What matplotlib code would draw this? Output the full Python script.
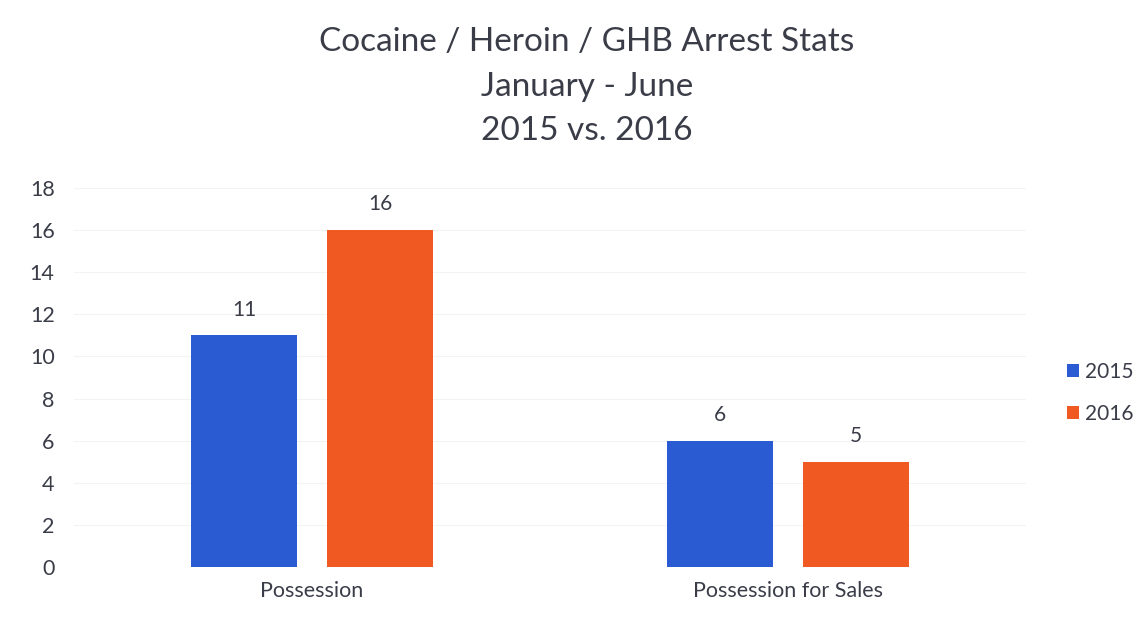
import numpy as np
import matplotlib.pyplot as plt

categories = ['Possession', 'Possession for Sales']
years = ['2015', '2016']
vals_2015 = [11, 6]
vals_2016 = [16, 5]

COLORS = ['#2b5bd3', '#f05a22']
TXT = '#3a3d48'
plt.rcParams['font.family'] = ['Lato', 'DejaVu Sans']

fig = plt.figure(figsize=(11.44, 6.29), dpi=100)
ax = fig.add_axes([0.0647, 0.0986, 0.8323, 0.6025])

x = np.arange(len(categories))
w = 0.223
off = 0.143
for vals, dx, c, lab in [(vals_2015, -off, COLORS[0], years[0]), (vals_2016, off, COLORS[1], years[1])]:
    bars = ax.bar(x + dx, vals, width=w, color=c, label=lab, zorder=3)
    for b, v in zip(bars, vals):
        ax.text(b.get_x() + b.get_width()/2, v + 0.75, str(v), ha='center', va='bottom',
                fontsize=15, color=TXT)

ax.set_xlim(-0.5, 1.5)
ax.set_ylim(0, 18)
ax.set_yticks(range(0, 19, 2))
ax.set_xticks(x)
ax.set_xticklabels(categories)
ax.tick_params(axis='both', length=0, labelsize=15.5, labelcolor=TXT)
ax.tick_params(axis='y', pad=14)
ax.tick_params(axis='x', pad=10)
ax.grid(axis='y', color='#f3f3f3', linewidth=0.8, zorder=0)
for s in ax.spines.values():
    s.set_visible(False)

fig.text(0.513, 0.933, 'Cocaine / Heroin / GHB Arrest Stats', ha='center', va='center', fontsize=24, color=TXT)
fig.text(0.513, 0.862, 'January - June', ha='center', va='center', fontsize=24, color=TXT)
fig.text(0.513, 0.792, '2015 vs. 2016', ha='center', va='center', fontsize=24, color=TXT)

fig.legend(loc='center left', bbox_to_anchor=(0.916, 0.375), frameon=False, fontsize=15,
           handlelength=0.6, handleheight=0.6, handletextpad=0.3, labelspacing=1.05,
           labelcolor=TXT)

fig.savefig('out.png', dpi=100)
